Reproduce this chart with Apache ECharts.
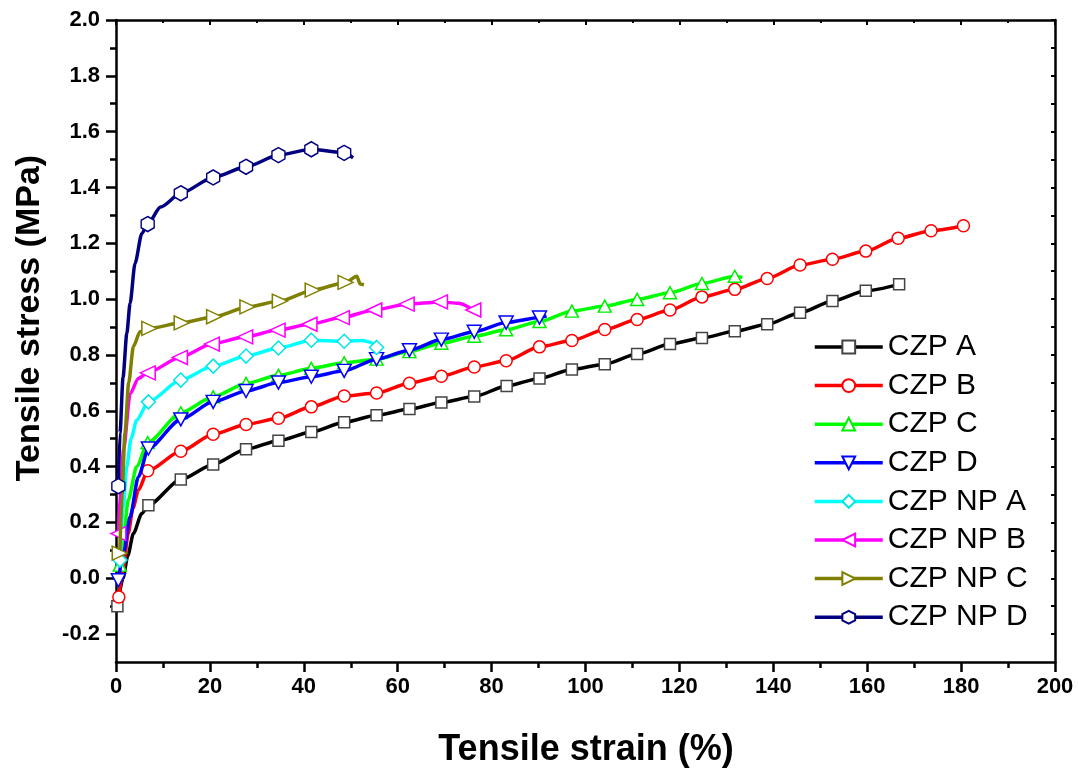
<!DOCTYPE html>
<html>
<head>
<meta charset="utf-8">
<script src="https://cdn.jsdelivr.net/npm/echarts@6/dist/echarts.min.js"></script>
<style>html,body{margin:0;padding:0;background:#fff}#c{width:1078px;height:775px}</style>
</head>
<body>
<div id="c"></div>
<script>
// Series names
const seriesNames = ['CZP A','CZP B','CZP C','CZP D','CZP NP A','CZP NP B','CZP NP C','CZP NP D'];
// Points: [strain %, stress MPa, marker flag]
const czpA = [[0.3,-0.10,1],[1.5,0.0,0],[2.5,0.08,0],[3.7,0.16,0],[5.5,0.232,0],[6.9,0.262,1],[13.8,0.354,1],[20.7,0.408,1],[27.7,0.462,1],[34.6,0.493,1],[41.6,0.524,1],[48.6,0.559,1],[55.5,0.584,1],[62.5,0.606,1],[69.3,0.630,1],[76.3,0.651,1],[83.2,0.689,1],[90.2,0.716,1],[97.1,0.748,1],[104.1,0.767,1],[111.0,0.803,1],[118.0,0.839,1],[124.8,0.861,1],[131.8,0.885,1],[138.7,0.910,1],[145.7,0.951,1],[152.6,0.993,1],[159.7,1.030,1],[166.8,1.053,1]];
const czpB = [[0.6,-0.067,1],[1.5,0.03,0],[2.6,0.16,0],[3.6,0.25,0],[4.75,0.315,0],[6.75,0.385,1],[13.8,0.455,1],[20.7,0.516,1],[27.7,0.551,1],[34.6,0.573,1],[41.6,0.614,1],[48.6,0.653,1],[55.5,0.664,1],[62.5,0.699,1],[69.3,0.724,1],[76.3,0.757,1],[83.1,0.779,1],[90.2,0.829,1],[97.1,0.852,1],[104.1,0.891,1],[111.0,0.927,1],[118.0,0.961,1],[124.8,1.008,1],[131.8,1.035,1],[138.7,1.074,1],[145.7,1.122,1],[152.6,1.143,1],[159.7,1.172,1],[166.6,1.218,1],[173.6,1.245,1],[180.5,1.263,1]];
const czpC = [[0.8,0.047,1],[1.6,0.15,0],[2.6,0.28,0],[4.4,0.40,0],[6.75,0.486,1],[13.8,0.593,1],[20.7,0.650,1],[27.7,0.698,1],[34.6,0.727,1],[41.6,0.752,1],[48.6,0.772,1],[55.5,0.785,1],[62.5,0.812,1],[69.3,0.842,1],[76.3,0.867,1],[83.1,0.890,1],[90.2,0.920,1],[97.1,0.957,1],[104.1,0.975,1],[111.0,0.999,1],[118.0,1.023,1],[124.8,1.056,1],[131.8,1.082,1],[133.4,1.078,0]];
const czpD = [[0.5,-0.007,1],[1.6,0.09,0],[3.0,0.22,0],[4.75,0.363,0],[6.9,0.465,1],[13.8,0.569,1],[20.7,0.632,1],[27.7,0.671,1],[34.6,0.701,1],[41.6,0.722,1],[48.6,0.743,1],[55.5,0.785,1],[62.5,0.817,1],[69.3,0.855,1],[76.3,0.883,1],[83.1,0.916,1],[90.2,0.934,1],[91.7,0.940,0]];
const npA = [[0.85,0.065,1],[1.5,0.25,0],[2.3,0.40,0],[3.2,0.50,0],[4.4,0.566,0],[6.9,0.632,1],[13.8,0.710,1],[20.7,0.760,1],[27.7,0.796,1],[34.6,0.825,1],[41.6,0.853,1],[48.6,0.849,1],[52.5,0.852,0],[54.3,0.845,0],[55.5,0.827,1]];
const npB = [[0.5,0.16,1],[1.0,0.32,0],[1.6,0.46,0],[3.0,0.66,0],[4.75,0.716,0],[6.75,0.736,1],[13.6,0.791,1],[20.4,0.839,1],[27.5,0.865,1],[34.4,0.889,1],[41.2,0.910,1],[48.1,0.934,1],[55.0,0.961,1],[61.9,0.982,1],[69.0,0.990,1],[73.0,0.985,0],[76.1,0.961,1]];
const npC = [[0.8,0.09,1],[1.3,0.30,0],[1.9,0.52,0],[2.7,0.70,0],[3.7,0.83,0],[5.1,0.883,0],[7.1,0.895,1],[14.0,0.915,1],[20.9,0.937,1],[28.0,0.972,1],[34.9,0.993,1],[41.9,1.032,1],[48.9,1.060,1],[51.3,1.082,0],[52.0,1.054,0],[52.8,1.051,0]];
const npD = [[0.5,0.33,1],[0.85,0.52,0],[1.5,0.72,0],[2.3,0.877,0],[3.0,0.985,0],[4.05,1.128,0],[5.5,1.235,0],[6.75,1.269,1],[9.5,1.330,0],[13.8,1.379,1],[20.7,1.436,1],[27.7,1.474,1],[34.6,1.516,1],[41.6,1.537,1],[48.6,1.524,1],[50.5,1.506,0]];
// Axis ticks
const xTickValues = [0,20,40,60,80,100,120,140,160,180,200];
const yTickValues = [-0.2,0.0,0.2,0.4,0.6,0.8,1.0,1.2,1.4,1.6,1.8,2.0];
const yMinorValues = [-0.1,0.1,0.3,0.5,0.7,0.9,1.1,1.3,1.5,1.7,1.9];
const yAllValues = [-0.2,-0.1,0.0,0.1,0.2,0.3,0.4,0.5,0.6,0.7,0.8,0.9,1.0,1.1,1.2,1.3,1.4,1.5,1.6,1.7,1.8,1.9,2.0];

const allData = [czpA, czpB, czpC, czpD, npA, npB, npC, npD];
const colors = ['#000000','#ff0000','#00ff00','#0000ff','#00ffff','#ff00ff','#808000','#000080'];
const borderColors = ['#444444','#ff0000','#00ee00','#0000ff','#00e5e5','#ff00ff','#808000','#000080'];
const hexPath = 'path://M0,-10L8.66,-5L8.66,5L0,10L-8.66,5L-8.66,-5Z';
const symbols = ['rect','circle','triangle','triangle','diamond','triangle','triangle',hexPath];
const rotates = [0,0,0,180,0,90,-90,0];
const sizes = [[11,11],[12,12],[13,12],[14,13],[14,14],[14,15],[14,15],[13,15]];

const FONT = '"Liberation Sans", Arial, Helvetica, sans-serif';

const series = allData.map((arr, i) => ({
  name: seriesNames[i],
  type: 'line',
  xAxisIndex: 0,
  yAxisIndex: 0,
  smooth: 0.25,
  smoothMonotone: 'x',
  showAllSymbol: true,
  symbol: symbols[i],
  symbolRotate: rotates[i],
  symbolSize: sizes[i],
  lineStyle: {color: colors[i], width: 3.5},
  itemStyle: {color: '#ffffff', borderColor: borderColors[i], borderWidth: 1.5},
  emphasis: {disabled: true},
  z: 2 + i,
  data: arr.map(p => p[2] ? {value: [p[0], p[1]]} : {value: [p[0], p[1]], symbol: 'none'})
}));

const axisLineStyle = {color: '#000', width: 2.5};

const option = {
  backgroundColor: '#ffffff',
  animation: false,
  grid: {left: 116, right: 23, top: 20, bottom: 113, containLabel: false},
  legend: {
    orient: 'vertical',
    left: 813,
    top: 332,
    padding: 0,
    itemWidth: 68,
    itemHeight: 16,
    itemGap: 8.6,
    data: seriesNames,
    textStyle: {fontFamily: FONT, fontSize: 30, lineHeight: 30, color: '#000'},
    lineStyle: {width: 3.5}
  },
  xAxis: [
    {
      type: 'value', position: 'bottom', min: 0, max: 200, interval: 20,
      axisLine: {show: true, onZero: false, lineStyle: axisLineStyle},
      axisTick: {show: true, inside: false, length: 10, lineStyle: {color: '#000', width: 2.5}},
      minorTick: {show: true, splitNumber: 2, length: 6, lineStyle: {color: '#000', width: 2.5}},
      axisLabel: {show: true, margin: 14, fontFamily: FONT, fontSize: 22, fontWeight: 'bold', color: '#000',
        customValues: xTickValues, formatter: v => String(v)},
      splitLine: {show: false}, minorSplitLine: {show: false}
    },
    {
      type: 'value', position: 'top', min: 0, max: 200, interval: 20,
      axisLine: {show: true, onZero: false, lineStyle: axisLineStyle},
      axisTick: {show: true, inside: true, length: 5, lineStyle: {color: '#000', width: 2}},
      minorTick: {show: true, splitNumber: 2, length: 3, lineStyle: {color: '#000', width: 2}},
      axisLabel: {show: false}, splitLine: {show: false}
    }
  ],
  yAxis: [
    {
      type: 'value', position: 'left', min: -0.3, max: 2.0, interval: 0.1,
      axisLine: {show: true, onZero: false, lineStyle: axisLineStyle},
      axisTick: {show: true, inside: false, length: 10, customValues: yTickValues, lineStyle: {color: '#000', width: 2.5}},
      axisLabel: {show: true, margin: 16, fontFamily: FONT, fontSize: 22, fontWeight: 'bold', color: '#000',
        customValues: yTickValues, formatter: v => Number(v).toFixed(1)},
      splitLine: {show: false}
    },
    {
      type: 'value', position: 'left', min: -0.3, max: 2.0, interval: 0.1,
      axisLine: {show: false, onZero: false},
      axisTick: {show: true, inside: false, length: 6, customValues: yMinorValues, lineStyle: {color: '#000', width: 2.5}},
      axisLabel: {show: false}, splitLine: {show: false}
    },
    {
      type: 'value', position: 'right', min: -0.3, max: 2.0, interval: 0.1,
      axisLine: {show: true, onZero: false, lineStyle: axisLineStyle},
      axisTick: {show: true, inside: true, length: 4, customValues: yAllValues, lineStyle: {color: '#000', width: 2}},
      axisLabel: {show: false}, splitLine: {show: false}
    }
  ],
  graphic: [
    {type: 'text', x: 586, y: 750, style: {text: 'Tensile strain (%)', font: 'bold 36px ' + FONT, fill: '#000', textAlign: 'center', textVerticalAlign: 'middle'}},
    {type: 'text', x: 30, y: 318, rotation: Math.PI / 2, style: {text: 'Tensile stress (MPa)', font: 'bold 34px ' + FONT, fill: '#000', textAlign: 'center', textVerticalAlign: 'middle'}}
  ],
  series: series
};

const chart = echarts.init(document.getElementById('c'), null, {renderer: 'canvas'});
chart.setOption(option);
</script>
</body>
</html>
